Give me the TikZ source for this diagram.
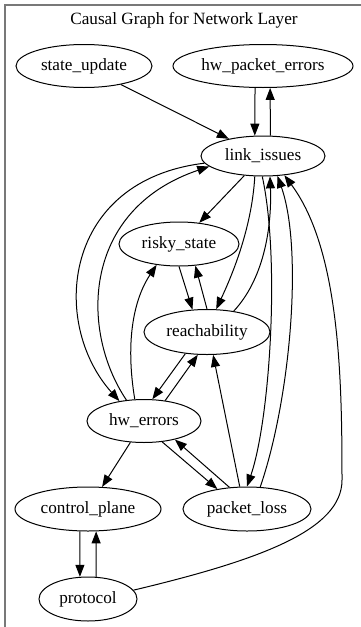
\documentclass[tikz,border=0pt]{standalone}
\usepackage{fontspec}
\setmainfont{Liberation Serif}
\usetikzlibrary{shapes.geometric}
\usetikzlibrary{arrows.meta}
\definecolor{frameColor}{RGB}{120,120,120}
\tikzstyle{causalGraph} = [x = 1pt, y = -1pt]
\tikzstyle{frameLine} = [color=frameColor, line width = 1.5pt]
\tikzstyle{causeNode} = [ellipse, draw, line width = 1pt, inner sep = 0pt, font = \fontsize{17.2}{20}\selectfont]
\tikzstyle{causeEdge} = [line width = 1pt, -{Triangle[length = 12pt, width = 9pt]}]
\tikzstyle{titleText} = [font = \fontsize{17.2}{20}\selectfont]
\newcommand{\causeEllipse}[5]{\node [causeNode, minimum width = #3, minimum height = #4] (#1) at (#2) {#5};}
\newcommand{\causeLink}[2]{\draw [causeEdge] (#1) -- (#2);}
\begin{document}
\begin{tikzpicture}[causalGraph]
  \useasboundingbox (0,0) rectangle (360,627);
  \draw [frameLine] (5,640) -- (5,5) -- (370,5);
  \node [titleText] (graphTitle) at (184,20) {Causal Graph for Network Layer};

  \causeEllipse{stateUpdate}{84,66}{136pt}{43pt}{state\_update}
  \causeEllipse{hwPacketErrors}{263,66}{180pt}{43pt}{hw\_packet\_errors}
  \causeEllipse{linkIssues}{263,156}{124pt}{40pt}{link\_issues}
  \causeEllipse{riskyState}{179,244}{120pt}{44pt}{risky\_state}
  \causeEllipse{reachability}{207,332}{126pt}{45pt}{reachability}
  \causeEllipse{hwErrors}{144,421}{114pt}{43pt}{hw\_errors}
  \causeEllipse{controlPlane}{88,509}{146pt}{44pt}{control\_plane}
  \causeEllipse{packetLoss}{247,509}{128pt}{44pt}{packet\_loss}
  \causeEllipse{protocol}{88,599}{98pt}{44pt}{protocol}

  \causeLink{stateUpdate}{linkIssues}
  \causeLink{hwPacketErrors.250}{linkIssues.112}
  \causeLink{linkIssues.70}{hwPacketErrors.288}
  \causeLink{linkIssues}{riskyState}
  \causeLink{riskyState.south}{reachability.123}
  \causeLink{reachability.north}{riskyState.307}
  \causeLink{reachability.225}{hwErrors.69}
  \causeLink{hwErrors.44}{reachability.248}
  \causeLink{packetLoss.108}{reachability.285}
  \causeLink{hwErrors}{controlPlane}
  \causeLink{hwErrors.311}{packetLoss.146}
  \causeLink{packetLoss.129}{hwErrors.329}
  \causeLink{controlPlane.250}{protocol.110}
  \causeLink{protocol.70}{controlPlane.290}

  \draw [causeEdge] (linkIssues.248) .. controls +(-3,54) and +(14,-30) .. (reachability.68);
  \draw [causeEdge] (reachability.38) .. controls +(29,-31) and +(2,54) .. (linkIssues.289);
  \draw [causeEdge] (linkIssues.268) .. controls +(18,83) and +(23,-67) .. (packetLoss.north);
  \draw [causeEdge] (packetLoss.59) .. controls +(30,-87) and +(26,74) .. (linkIssues.306);
  \draw [causeEdge] (linkIssues.187) .. controls +(-142,17) and +(-70,-78) .. (hwErrors.141);
  \draw [causeEdge] (hwErrors.130) .. controls +(-47,-70) and +(-127,43) .. (linkIssues.191);
  \draw [causeEdge] (hwErrors.113) .. controls +(-10,-60) and +(-22,33) .. (riskyState.223);
  \draw [causeEdge] (protocol.11) .. controls (260,560) and (342,530) .. (342,480)
    .. controls (342,380) and (340,250) .. (linkIssues.318);
\end{tikzpicture}
\end{document}
